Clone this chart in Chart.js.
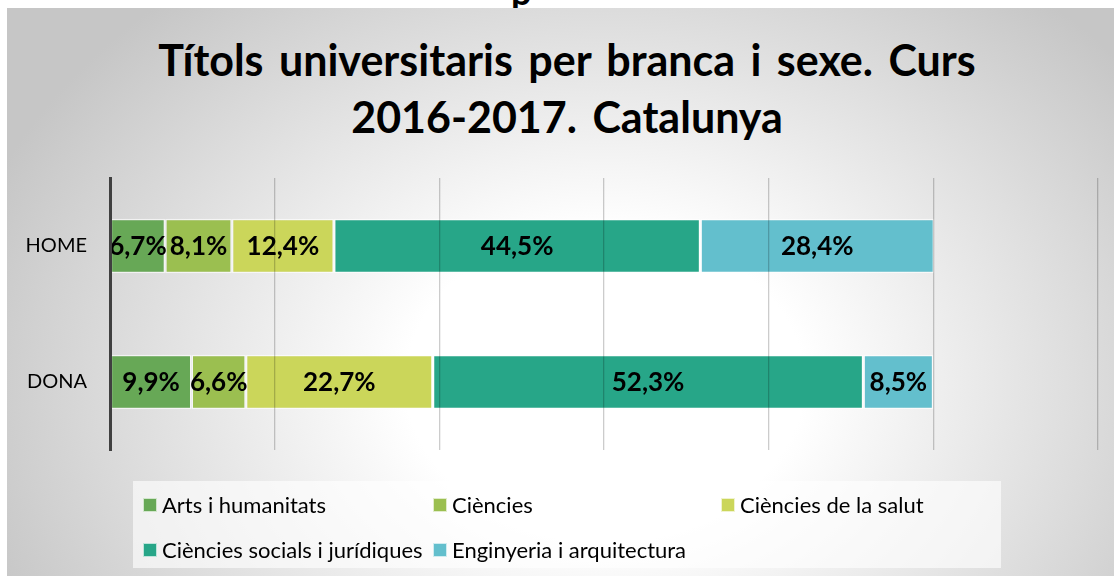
<!DOCTYPE html>
<html>
<head>
<meta charset="utf-8">
<script src="https://cdn.jsdelivr.net/npm/chart.js@4"></script>
<style>
  html, body { margin: 0; padding: 0; background: #fff; }
  #wrap { position: relative; width: 1114px; height: 576px; overflow: hidden; font-family: Lato, sans-serif; }
  #topclip { position: absolute; left: 0; top: 0; width: 1114px; height: 8px; overflow: hidden; }
  #topclip span { position: absolute; left: 511px; top: -31px; font: bold 36px Lato, sans-serif; color: #000; }
  #bg { position: absolute; left: 7px; top: 8px; right: 0; bottom: 0;
        background: radial-gradient(ellipse 60% 90% at 54% 66%, #ffffff 30%, #c6c6c6 100%); }
  #title { position: absolute; left: 0; width: 1134px; top: 31px; text-align: center;
           font: bold 43px/57px Lato, sans-serif; color: #000; word-spacing: 5px; }
  #chart { position: absolute; left: 0; top: 0; }
  #legend { position: absolute; left: 133px; top: 481px; width: 868px; height: 87px;
            background: rgba(255,255,255,0.62); }
  .item { position: absolute; font-size: 22px; color: #000; white-space: nowrap; line-height: 24px; }
  .sw { position: absolute; width: 12px; height: 12px; left: -19px; top: 5px; border: 1px solid rgba(255,255,255,0.7); }
</style>
</head>
<body>
<div id="wrap">
  <div id="topclip"><span>p</span></div>
  <div id="bg"></div>
  <div id="title"></div>
  <canvas id="chart" width="1114" height="576"></canvas>
  <div id="legend"></div>
</div>
<script>
  "use strict";

  const titleLines = ['Títols universitaris per branca i sexe. Curs', '2016-2017. Catalunya'];
  const groups = ['HOME', 'DONA'];
  const branches = ['Arts i humanitats', 'Ciències', 'Ciències de la salut', 'Ciències socials i jurídiques', 'Enginyeria i arquitectura'];
  const colors = ['#67a856', '#9bbf50', '#cbd65a', '#27a688', '#63bfcd'];

  // percentages per branch: [HOME, DONA]
  const arts = [6.7, 9.9];
  const ciencies = [8.1, 6.6];
  const salut = [12.4, 22.7];
  const socials = [44.5, 52.3];
  const enginyeria = [28.4, 8.5];
  const series = [arts, ciencies, salut, socials, enginyeria];

  const xTicks = [0, 20, 40, 60, 80, 100, 120];

  document.getElementById('title').innerHTML = titleLines.join('<br>');

  // little plugin to write the value inside each segment
  const barLabels = {
    id: 'barLabels',
    afterDatasetsDraw(chart) {
      const ctx = chart.ctx;
      ctx.save();
      ctx.font = 'bold 26px Lato, sans-serif';
      ctx.fillStyle = '#000';
      ctx.textAlign = 'center';
      ctx.textBaseline = 'middle';
      chart.data.datasets.forEach((ds, i) => {
        chart.getDatasetMeta(i).data.forEach((bar, j) => {
          let txt = ds.data[j].toFixed(1).replace('.', ',') + '%';
          ctx.fillText(txt, (bar.x + bar.base) / 2, bar.y + 1);
        });
      });
      ctx.restore();
    }
  };

  let ctx = document.getElementById('chart').getContext('2d');
  let chart = new Chart(ctx, {
    type: 'bar',
    data: {
      labels: groups,
      datasets: branches.map((name, i) => ({
        label: name,
        data: series[i],
        backgroundColor: colors[i],
        borderColor: 'rgba(255,255,255,0.65)',
        borderWidth: 1.5,
        borderSkipped: false,
        barPercentage: 0.8,
        categoryPercentage: 0.5
      }))
    },
    options: {
      indexAxis: 'y',
      responsive: false,
      animation: false,
      layout: { padding: { left: 0, right: 16, top: 178, bottom: 126 } },
      plugins: {
        legend: { display: false },
        tooltip: { enabled: false }
      },
      scales: {
        x: {
          stacked: true,
          min: 0,
          max: 120,
          afterBuildTicks: (s) => { s.ticks = xTicks.map(v => ({ value: v })); },
          ticks: { display: false },
          border: { display: false },
          grid: {
            z: 1,
            drawTicks: false,
            lineWidth: 1.3,
            color: (c) => c.tick && c.tick.value === 0 ? 'rgba(0,0,0,0)' : 'rgba(0,0,0,0.2)'
          },
          afterFit: (s) => { s.height = 0; }
        },
        y: {
          stacked: true,
          grid: { display: false, drawTicks: false },
          border: { display: true, color: '#404040', width: 3, z: 2 },
          ticks: { color: '#000', padding: 23, font: { family: 'Lato, sans-serif', size: 20 } },
          afterFit: (s) => { s.width = 110; }
        }
      }
    },
    plugins: [barLabels]
  });

  // legend drawn as html, laid out in columns like the original
  const legendPos = [[162, 12], [452, 12], [740, 12], [162, 57], [452, 57]];
  let legend = document.getElementById('legend');
  branches.forEach((name, i) => {
    let el = document.createElement('div');
    el.className = 'item';
    el.style.left = (legendPos[i][0] - 133) + 'px';
    el.style.top = (legendPos[i][1]) + 'px';
    el.innerHTML = '<span class="sw" style="background:' + colors[i] + '"></span>' + name;
    legend.appendChild(el);
  });
</script>
</body>
</html>
